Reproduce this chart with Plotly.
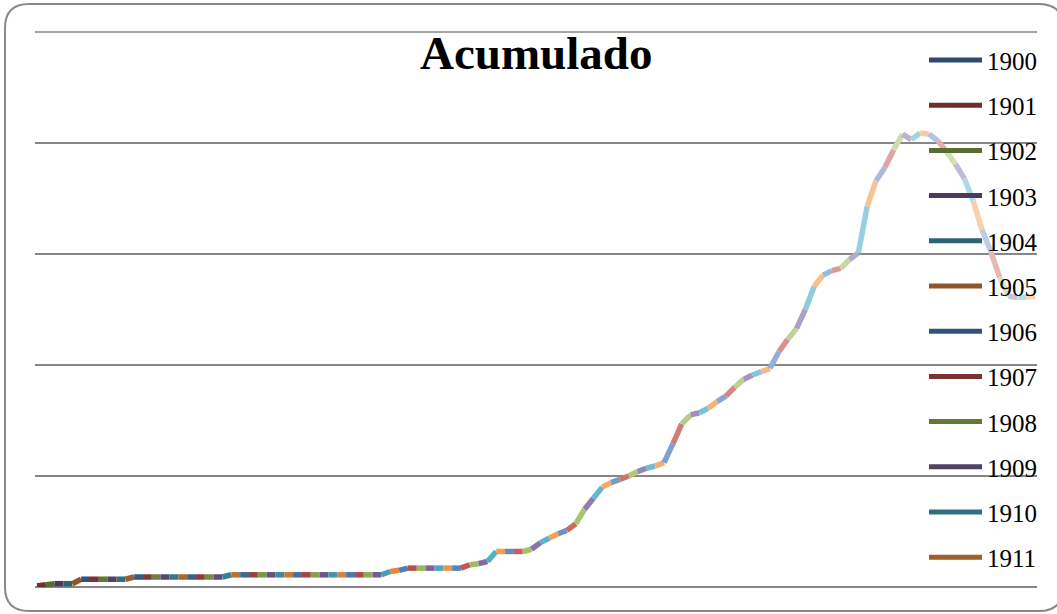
import plotly.graph_objects as go

# Year categories and cumulative values
years = list(range(1900, 2014))
acumulado = [
    1, 2, 3, 3, 3, 7, 7, 7, 7, 7,
    7, 9, 9, 9, 9, 9, 9, 9, 9, 9,
    9, 9, 11, 11, 11, 11, 11, 11, 11, 11,
    11, 11, 11, 11, 11, 11, 11, 11, 11, 11,
    14, 15, 17, 17, 17, 17, 17, 17, 17, 20,
    21, 23, 32, 32, 32, 32, 34, 40, 44, 48,
    51, 57, 70, 80, 90, 94, 97, 100, 104, 107,
    109, 112, 129, 147, 155, 157, 161, 167, 172, 180,
    187, 191, 194, 197, 212, 223, 233, 250, 271, 281,
    285, 287, 295, 301, 343, 366, 378, 394, 408, 403,
    409, 408, 402, 392, 381, 368, 348, 322, 302, 279,
    262, 261, 261, 262,
]
assert len(years) == len(acumulado)

legend_years = years[:12]

BASE_COLORS = ["#4F81BD", "#C0504D", "#9BBB59", "#8064A2", "#4BACC6", "#F79646"]
GRID_COLOR = "#868686"

W, H = 1057, 614
PLOT_L, PLOT_R, PLOT_T, PLOT_B = 35, 1037, 32, 587
Y_MAX = 500


def shade(hex_color, t):
    r, g, b = (int(hex_color[i:i + 2], 16) for i in (1, 3, 5))
    if t < 0:
        f = 1 + t
        r, g, b = r * f, g * f, b * f
    else:
        r, g, b = r + (255 - r) * t, g + (255 - g) * t, b + (255 - b) * t
    return "#{:02X}{:02X}{:02X}".format(round(r), round(g), round(b))


def series_color(k):
    n_cycles = (len(years) - 1) // 6
    cycle = k // 6
    t = -0.42 + 1.02 * cycle / n_cycles
    return shade(BASE_COLORS[k % 6], t)


def px_x(p):
    return (p - PLOT_L) / (PLOT_R - PLOT_L)


def px_y(p):
    return (PLOT_B - p) / (PLOT_B - PLOT_T)


fig = go.Figure()

# one series per year: each draws the step from the previous year
for k in range(1, len(years)):
    fig.add_trace(go.Scatter(
        x=[years[k - 1], years[k]],
        y=[acumulado[k - 1], acumulado[k]],
        mode="lines",
        name=str(years[k]),
        line=dict(color=series_color(k), width=5.5),
        showlegend=False,
    ))

shapes = []
annotations = []

# rounded chart frame
x1, x2, y1, y2, rad = 5, 1063, 4, 611, 24
pts = [
    ("M", x1 + rad, y1), ("L", x2 - rad, y1), ("Q", x2, y1, x2, y1 + rad),
    ("L", x2, y2 - rad), ("Q", x2, y2, x2 - rad, y2), ("L", x1 + rad, y2),
    ("Q", x1, y2, x1, y2 - rad), ("L", x1, y1 + rad), ("Q", x1, y1, x1 + rad, y1),
]
path = ""
for seg in pts:
    cmd, coords = seg[0], seg[1:]
    conv = []
    for i in range(0, len(coords), 2):
        conv.append("{:.5f},{:.5f}".format(px_x(coords[i]), px_y(coords[i + 1])))
    path += cmd + " ".join(conv) + " "
path += "Z"
shapes.append(dict(type="path", path=path, xref="paper", yref="paper",
                   line=dict(color="#898989", width=2), fillcolor="rgba(0,0,0,0)",
                   layer="below"))

# top gridline at the axis maximum (top edge of the plot area)
shapes.append(dict(type="line", xref="paper", yref="paper", x0=0, x1=1, y0=1, y1=1,
                   line=dict(color=GRID_COLOR, width=1.5), layer="below"))

# legend
for k, yr in enumerate(legend_years):
    ly = 60 + 45.2 * k
    shapes.append(dict(type="line", xref="paper", yref="paper",
                       x0=px_x(929), x1=px_x(982), y0=px_y(ly), y1=px_y(ly),
                       line=dict(color=series_color(k), width=5)))
    annotations.append(dict(text=str(yr), xref="paper", yref="paper",
                            x=px_x(985), y=px_y(ly + 1.5), xanchor="left", yanchor="middle",
                            showarrow=False,
                            font=dict(family="Liberation Serif", size=25, color="black")))

# title
annotations.append(dict(text="<b>Acumulado</b>", xref="paper", yref="paper",
                        x=px_x(536), y=px_y(53), xanchor="center", yanchor="middle",
                        showarrow=False,
                        font=dict(family="Liberation Serif", size=47, color="black")))

step = (PLOT_R - PLOT_L - 4) / (len(years) - 1)
fig.update_layout(
    width=W, height=H,
    margin=dict(l=PLOT_L, r=W - PLOT_R, t=PLOT_T, b=H - PLOT_B, pad=0),
    paper_bgcolor="white", plot_bgcolor="white",
    showlegend=False,
    shapes=shapes, annotations=annotations,
    xaxis=dict(range=[years[0] - 2 / step, years[-1] + 2 / step],
               showgrid=False, zeroline=False, showline=False,
               showticklabels=False, ticks=""),
    yaxis=dict(range=[0, Y_MAX], tick0=0, dtick=100,
               showgrid=True, gridcolor=GRID_COLOR, gridwidth=1.5,
               zeroline=True, zerolinecolor=GRID_COLOR, zerolinewidth=1.5,
               showline=False, showticklabels=False, ticks=""),
    font=dict(family="Liberation Serif"),
)

fig.write_html("out.html")
